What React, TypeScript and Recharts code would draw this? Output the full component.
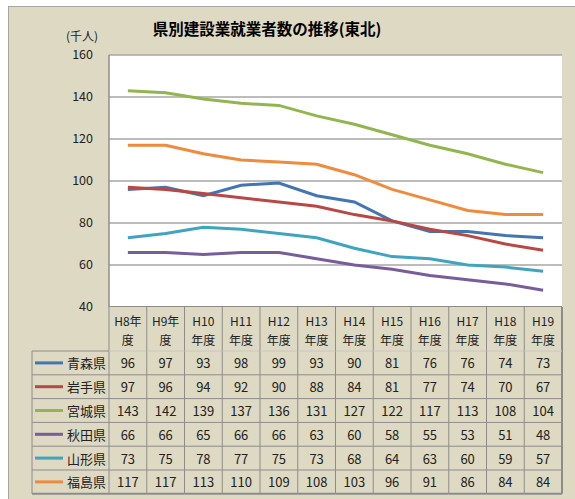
import { LineChart, Line, XAxis, YAxis, CartesianGrid } from 'recharts';

const years = ['H8', 'H9', 'H10', 'H11', 'H12', 'H13', 'H14', 'H15', 'H16', 'H17', 'H18', 'H19'];
const aomori = [96, 97, 93, 98, 99, 93, 90, 81, 76, 76, 74, 73];
const iwate = [97, 96, 94, 92, 90, 88, 84, 81, 77, 74, 70, 67];
const miyagi = [143, 142, 139, 137, 136, 131, 127, 122, 117, 113, 108, 104];
const akita = [66, 66, 65, 66, 66, 63, 60, 58, 55, 53, 51, 48];
const yamagata = [73, 75, 78, 77, 75, 73, 68, 64, 63, 60, 59, 57];
const fukushima = [117, 117, 113, 110, 109, 108, 103, 96, 91, 86, 84, 84];
const yTicks = [40, 60, 80, 100, 120, 140, 160];

const series = [
  { key: 'aomori', name: '青森県', color: '#4475B3', values: aomori },
  { key: 'iwate', name: '岩手県', color: '#B94744', values: iwate },
  { key: 'miyagi', name: '宮城県', color: '#92B550', values: miyagi },
  { key: 'akita', name: '秋田県', color: '#785C9C', values: akita },
  { key: 'yamagata', name: '山形県', color: '#40A4BF', values: yamagata },
  { key: 'fukushima', name: '福島県', color: '#EE8B3E', values: fukushima },
];

const data = years.map((y, i) => {
  const row: Record<string, string | number> = { year: y };
  series.forEach(s => { row[s.key] = s.values[i]; });
  return row;
});

const FONT = '"Noto Sans CJK JP", "Noto Sans", sans-serif';
const BEIGE = '#DDD9C3';
const GRID = '#8C8C8C';
const COL_W = 453 / 12;
const HEAD_H = 44;
const ROW_H = 23.8;
const LEGEND_L = 32;

function TableColumn(props: any) {
  const { x, y, payload, index } = props;
  const left = x - COL_W / 2;
  const yr = payload.value as string;
  const twoDigit = yr.length > 2;
  const lines = twoDigit ? [yr, '年度'] : [yr + '年', '度'];
  const tableBottom = y + HEAD_H + ROW_H * series.length;
  return (
    <g>
      {/* header cell */}
      <rect x={left} y={y} width={COL_W} height={HEAD_H} fill={BEIGE} stroke="none" />
      <line x1={left} x2={left} y1={y} y2={tableBottom} stroke={GRID} strokeWidth={1} />
      {index === years.length - 1 && (
        <line x1={left + COL_W} x2={left + COL_W} y1={y} y2={tableBottom} stroke={GRID} strokeWidth={2} />
      )}
      <text x={x} y={y + 13} textAnchor="middle" dominantBaseline="central" fontSize={12} fill="#222" fontFamily={FONT}>{lines[0]}</text>
      <text x={x} y={y + 32} textAnchor="middle" dominantBaseline="central" fontSize={12} fill="#222" fontFamily={FONT}>{lines[1]}</text>
      {series.map((s, r) => {
        const top = y + HEAD_H + r * ROW_H;
        return (
          <g key={s.key}>
            <line x1={left} x2={left + COL_W} y1={top} y2={top} stroke={r === 0 ? '#C8C8C8' : GRID} strokeWidth={1} />
            <text x={x} y={top + ROW_H / 2} textAnchor="middle" dominantBaseline="central" fontSize={13} fill="#222" fontFamily={FONT}>
              {s.values[index]}
            </text>
          </g>
        );
      })}
      <line x1={left} x2={left + COL_W} y1={tableBottom} y2={tableBottom} stroke={GRID} strokeWidth={2} />
      {index === 0 && (
        <g>
          {series.map((s, r) => {
            const top = y + HEAD_H + r * ROW_H;
            return (
              <g key={s.key}>
                <line x1={LEGEND_L} x2={left} y1={top} y2={top} stroke={GRID} strokeWidth={1} />
                <line x1={LEGEND_L + 3} x2={LEGEND_L + 31} y1={top + ROW_H / 2} y2={top + ROW_H / 2} stroke={s.color} strokeWidth={3} />
                <text x={left - 3} y={top + ROW_H / 2} textAnchor="end" dominantBaseline="central" fontSize={13} fill="#222" fontFamily={FONT}>
                  {s.name}
                </text>
              </g>
            );
          })}
          <line x1={LEGEND_L} x2={LEGEND_L} y1={y + HEAD_H} y2={tableBottom} stroke={GRID} strokeWidth={1} />
          <line x1={LEGEND_L} x2={left} y1={tableBottom} y2={tableBottom} stroke={GRID} strokeWidth={2} />
        </g>
      )}
    </g>
  );
}

export default function App() {
  return (
    <div style={{ position: 'absolute', left: 0, top: 0, width: 575, height: 499, background: '#fff', overflow: 'hidden' }}>
      <div style={{ position: 'absolute', left: 8, top: 6, width: 567, height: 493, background: BEIGE, borderTop: '1px solid #A6A6A6', borderLeft: '1px solid #A6A6A6', boxSizing: 'border-box' }} />
      <div style={{ position: 'absolute', left: 0, top: 0 }}>
        <LineChart width={575} height={499} data={data} margin={{ top: 55, right: 13, bottom: 0, left: 0 }}>
          <text x={267} y={28} textAnchor="middle" dominantBaseline="central" fontSize={15.5} fontWeight="bold" fill="#000" fontFamily={FONT}>
            県別建設業就業者数の推移(東北)
          </text>
          <text x={82} y={35} textAnchor="middle" dominantBaseline="central" fontSize={12} fill="#222" fontFamily={FONT}>
            (千人)
          </text>
          <CartesianGrid vertical={false} fill="#fff" stroke="#A6A6A6" strokeWidth={1.5} />
          <XAxis
            dataKey="year"
            height={192}
            padding={{ left: COL_W / 2, right: COL_W / 2 }}
            axisLine={{ stroke: GRID, strokeWidth: 2 }}
            tickLine={false}
            tickSize={0}
            tickMargin={0}
            interval={0}
            tick={<TableColumn />}
          />
          <YAxis
            width={109}
            domain={[40, 160]}
            ticks={yTicks}
            interval={0}
            axisLine={{ stroke: GRID, strokeWidth: 1.5 }}
            tickLine={false}
            tickMargin={10}
            tick={{ fontSize: 12.5, fill: '#222', fontFamily: FONT }}
          />
          {series.map(s => (
            <Line
              key={s.key}
              type="linear"
              dataKey={s.key}
              name={s.name}
              stroke={s.color}
              strokeWidth={3}
              dot={false}
              activeDot={false}
              isAnimationActive={false}
            />
          ))}
        </LineChart>
      </div>
    </div>
  );
}
